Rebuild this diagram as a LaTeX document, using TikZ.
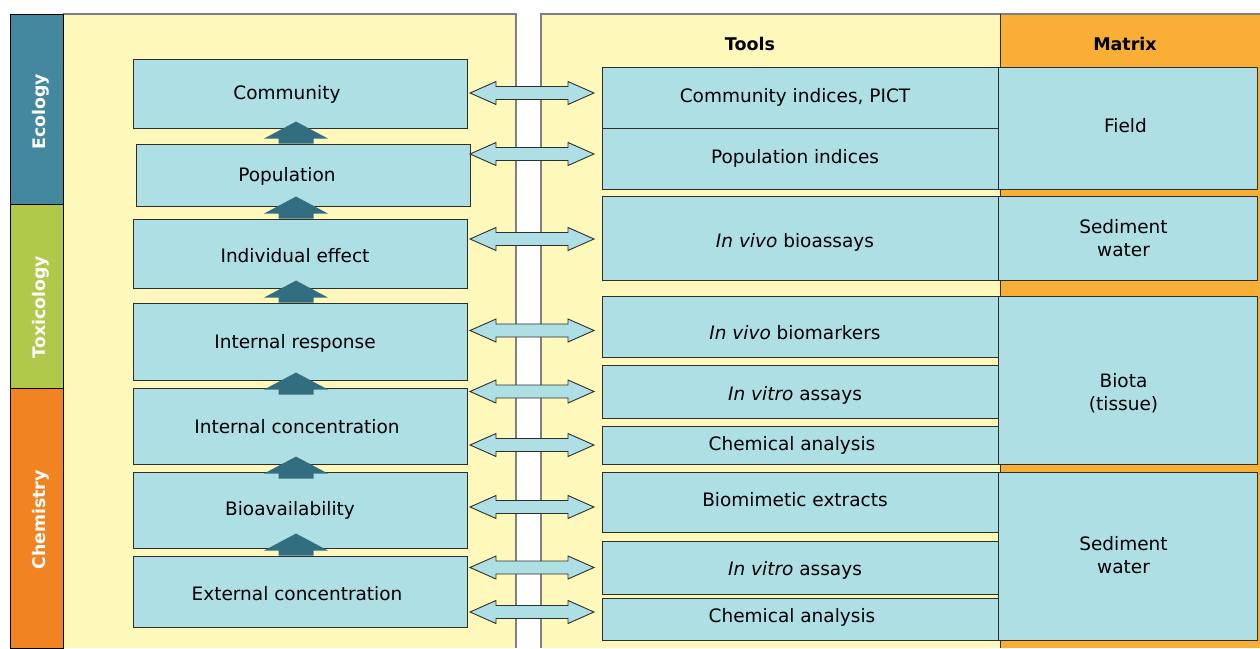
\documentclass[tikz,border=0pt]{standalone}
\usepackage{fontspec}
\setmainfont{DejaVu Sans}
\usepackage{tikz}
\usetikzlibrary{calc}

\definecolor{paleyellow}{HTML}{FFF8BB}
\definecolor{boxblue}{HTML}{ADDFE5}
\definecolor{ecoteal}{HTML}{43889E}
\definecolor{toxgreen}{HTML}{B0C94A}
\definecolor{chemorange}{HTML}{F28322}
\definecolor{matrixorange}{HTML}{F9AE36}
\definecolor{arrowteal}{HTML}{336E80}
\definecolor{edgegray}{HTML}{2E2E2E}
\definecolor{panelgray}{HTML}{808080}

\tikzset{
  boxtext/.style={font=\fontsize{18.5}{23}\selectfont, align=center},
  level/.style={draw=edgegray, fill=boxblue, line width=0.9pt, inner sep=0pt,
    minimum width=334, boxtext},
  tool/.style={level, minimum width=396},
  medium/.style={level, minimum width=259},
  sidelabel/.style={rotate=90, text=white, font=\fontsize{17.3}{20}\selectfont\bfseries},
  heading/.style={font=\fontsize{17.5}{21}\selectfont\bfseries},
  twoway/.style={draw=edgegray, fill=boxblue, line width=0.9pt},
}

\begin{document}
\begin{tikzpicture}[x=1pt, y=-1pt]
  \fill[white] (0,0) rectangle (1260,648);
  \useasboundingbox (0,0) rectangle (1260,648);
  % panels
  \fill[paleyellow] (63,14) rectangle (516,648);
  \fill[paleyellow] (541,14) rectangle (1000,648);
  \fill[matrixorange] (1000,14) rectangle (1260,648);
  \draw[panelgray, line width=1.2pt] (63,14) -- (516,14) -- (516,648);
  \draw[panelgray, line width=1.2pt] (541,648) -- (541,14) -- (1260,14);
  \draw[edgegray] (1000,14) -- (1000,648);
  % disciplines
  \draw[fill=ecoteal] (10,14) rectangle (63,204);
  \draw[fill=toxgreen] (10,204) rectangle (63,388);
  \draw[fill=chemorange] (10,388) rectangle (63,648);
  \node[sidelabel] (eco) at (41,112) {Ecology};
  \node[sidelabel] (tox) at (41,307) {Toxicology};
  \node[sidelabel] (chem) at (41,520) {Chemistry};
  \node[heading] (toolshead) at (750,44) {Tools};
  \node[heading] (matrixhead) at (1125,44) {Matrix};

  % levels of effect
  \node[level, minimum height=69, label={[boxtext, xshift=-13pt, yshift=-1pt]center:Community}] (comm) at (300,93.5) {};
  \node[level, minimum height=62, label={[boxtext, xshift=-16pt, yshift=-1pt]center:Population}] (pop) at (303,175) {};
  \node[level, minimum height=69, label={[boxtext, xshift=-5pt, yshift=-2.5pt]center:Individual effect}] (indiv) at (300,253.5) {};
  \node[level, minimum height=77, label={[boxtext, xshift=-5pt, yshift=-1.5pt]center:Internal response}] (intresp) at (300,341.5) {};
  \node[level, minimum height=76, label={[boxtext, xshift=-3pt, yshift=-1pt]center:Internal concentration}] (intconc) at (300,426) {};
  \node[level, minimum height=76, label={[boxtext, xshift=-10pt]center:Bioavailability}] (bioav) at (300,510) {};
  \node[level, minimum height=71, label={[boxtext, xshift=-3pt, yshift=-2pt]center:External concentration}] (extconc) at (300,591.5) {};

  % tools
  \node[tool, minimum height=61, label={[boxtext, xshift=-5pt]center:Community indices, PICT}] (t1) at (800,97.5) {};
  \node[tool, minimum height=61, label={[boxtext, xshift=-5pt]center:Population indices}] (t2) at (800,158.5) {};
  \node[tool, minimum height=84, label={[boxtext, xshift=-5pt, yshift=-4pt]center:{\textit{In vivo} bioassays}}] (t3) at (800,238) {};
  \node[tool, minimum height=61, label={[boxtext, xshift=-5pt, yshift=-6.5pt]center:{\textit{In vivo} biomarkers}}] (t4) at (800,326.5) {};
  \node[tool, minimum height=53, label={[boxtext, xshift=-5pt, yshift=-3.5pt]center:{\textit{In vitro} assays}}] (t5) at (800,391.5) {};
  \node[tool, minimum height=38, label={[boxtext, xshift=-8pt]center:Chemical analysis}] (t6) at (800,445) {};
  \node[tool, minimum height=60, label={[boxtext, xshift=-5pt, yshift=2pt]center:Biomimetic extracts}] (t7) at (800,502) {};
  \node[tool, minimum height=53, label={[boxtext, xshift=-5pt, yshift=-2.5pt]center:{\textit{In vitro} assays}}] (t8) at (800,567.5) {};
  \node[tool, minimum height=42, label={[boxtext, xshift=-8pt, yshift=1.5pt]center:Chemical analysis}] (t9) at (800,619) {};

  % matrix
  \node[medium, minimum height=122, label={[boxtext, xshift=-2pt, yshift=2pt]center:Field}] (field) at (1127.5,128) {};
  \node[medium, minimum height=84, label={[boxtext, xshift=-4pt]center:Sediment\\water}] (sed1) at (1127.5,238) {};
  \node[medium, minimum height=168, label={[boxtext, xshift=-4pt, yshift=-13pt]center:Biota\\(tissue)}] (biota) at (1127.5,380) {};
  \node[medium, minimum height=168, label={[boxtext, xshift=-4pt, yshift=1pt]center:Sediment\\water}] (sed2) at (1127.5,556) {};

  % upward arrows between levels
  \coordinate (upx) at (296,0);
  \foreach \lo/\off in {pop/0, indiv/0, intresp/0, intconc/7, bioav/7, extconc/0}
    \fill[arrowteal] ($(upx |- \lo.north)+(-17.5,\off)$) -- ++(0,-5) -- ++(-14.5,0)
      -- ++(32,-17) -- ++(32,17) -- ++(-14.5,0) -- ++(0,5) -- cycle;

  % two-way arrows to the tools
  \coordinate (lx) at (470,0);
  \foreach \t/\dy in {t1/-4.5, t2/-4.5, t3/1, t4/4, t5/0, t6/0, t7/5, t8/0, t9/-7}
    \draw[twoway] ($(lx |- \t.west)+(0,\dy)$) -- ++(26,-11.5) -- ++(0,5) -- ++(72,0)
      -- ++(0,-5) -- ++(26,11.5) -- ++(-26,11.5) -- ++(0,-5) -- ++(-72,0) -- ++(0,5) -- cycle;
\end{tikzpicture}
\end{document}
